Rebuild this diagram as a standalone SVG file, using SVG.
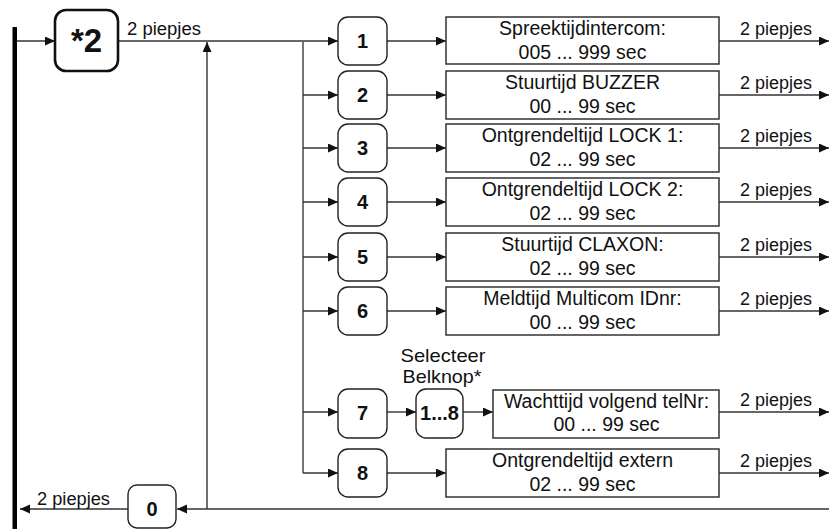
<svg xmlns="http://www.w3.org/2000/svg" width="829" height="529" viewBox="0 0 829 529">
<defs>
<marker id="ah" markerUnits="userSpaceOnUse" markerWidth="11" markerHeight="10" refX="10" refY="4.5" orient="auto">
<path d="M0,0 L10,4.5 L0,9 z" fill="#111"/>
</marker>
<style>
.ln{stroke:#333;stroke-width:1.4;fill:none}
.bus{stroke:#666;stroke-width:1.8;fill:none}
.rb{fill:#fff;stroke:#222;stroke-width:1.4}
.bx{fill:#fff;stroke:#333;stroke-width:1.5}
.num{font-family:"Liberation Sans",Arial,sans-serif;font-weight:bold;font-size:20px;text-anchor:middle;fill:#111}
.txt{font-family:"Liberation Sans",Arial,sans-serif;font-size:19.5px;text-anchor:middle;fill:#111}
.sel{font-family:"Liberation Sans",Arial,sans-serif;font-size:18.5px;text-anchor:middle;fill:#111}
.lbl{font-family:"Liberation Sans",Arial,sans-serif;font-size:18px;fill:#111}
</style>
</defs>
<rect x="12.5" y="27" width="4.5" height="502" fill="#000"/>
<g id="connectors">
<path class="ln" d="M17,41 H55" marker-end="url(#ah)"/>
<path class="ln" d="M118,41 H338" marker-end="url(#ah)"/>
<path class="bus" d="M303,41 V473"/>
<path class="ln" d="M303,95 H338" marker-end="url(#ah)"/>
<path class="ln" d="M303,148 H338" marker-end="url(#ah)"/>
<path class="ln" d="M303,202 H338" marker-end="url(#ah)"/>
<path class="ln" d="M303,257 H338" marker-end="url(#ah)"/>
<path class="ln" d="M303,311 H338" marker-end="url(#ah)"/>
<path class="ln" d="M303,412 H338" marker-end="url(#ah)"/>
<path class="ln" d="M303,473 H338" marker-end="url(#ah)"/>
<path class="ln" d="M387,41 H446" marker-end="url(#ah)"/>
<path class="ln" d="M387,95 H446" marker-end="url(#ah)"/>
<path class="ln" d="M387,148 H446" marker-end="url(#ah)"/>
<path class="ln" d="M387,202 H446" marker-end="url(#ah)"/>
<path class="ln" d="M387,257 H446" marker-end="url(#ah)"/>
<path class="ln" d="M387,311 H446" marker-end="url(#ah)"/>
<path class="ln" d="M387,412 H416" marker-end="url(#ah)"/>
<path class="ln" d="M463,412 H493" marker-end="url(#ah)"/>
<path class="ln" d="M387,473 H446" marker-end="url(#ah)"/>
<path class="ln" d="M719,41 H829" marker-end="url(#ah)"/>
<path class="ln" d="M719,95 H829" marker-end="url(#ah)"/>
<path class="ln" d="M719,148 H829" marker-end="url(#ah)"/>
<path class="ln" d="M719,202 H829" marker-end="url(#ah)"/>
<path class="ln" d="M719,257 H829" marker-end="url(#ah)"/>
<path class="ln" d="M719,311 H829" marker-end="url(#ah)"/>
<path class="ln" d="M719,412 H829" marker-end="url(#ah)"/>
<path class="ln" d="M719,473 H829" marker-end="url(#ah)"/>
<path class="ln" d="M829,509 H177" marker-end="url(#ah)"/>
<path class="ln" d="M207,509 V42" marker-end="url(#ah)"/>
<path class="ln" d="M128,509 H20" marker-end="url(#ah)"/>
<text class="lbl" x="127" y="35" textLength="74" lengthAdjust="spacingAndGlyphs">2 piepjes</text>
<text class="lbl" x="37" y="505" textLength="73" lengthAdjust="spacingAndGlyphs">2 piepjes</text>
<text class="lbl" x="740" y="35" textLength="72" lengthAdjust="spacingAndGlyphs">2 piepjes</text>
<text class="lbl" x="740" y="89" textLength="72" lengthAdjust="spacingAndGlyphs">2 piepjes</text>
<text class="lbl" x="740" y="142" textLength="72" lengthAdjust="spacingAndGlyphs">2 piepjes</text>
<text class="lbl" x="740" y="196" textLength="72" lengthAdjust="spacingAndGlyphs">2 piepjes</text>
<text class="lbl" x="740" y="251" textLength="72" lengthAdjust="spacingAndGlyphs">2 piepjes</text>
<text class="lbl" x="740" y="305" textLength="72" lengthAdjust="spacingAndGlyphs">2 piepjes</text>
<text class="lbl" x="740" y="406" textLength="72" lengthAdjust="spacingAndGlyphs">2 piepjes</text>
<text class="lbl" x="740" y="467" textLength="72" lengthAdjust="spacingAndGlyphs">2 piepjes</text>
</g>
<g id="n-star2">
<rect x="55" y="10" width="63" height="61" rx="11" fill="#fff" stroke="#111" stroke-width="2.6"/>
<text x="86.5" y="52" font-family="'Liberation Sans',Arial,sans-serif" font-weight="bold" font-size="33" text-anchor="middle" fill="#111">*2</text>
</g>
<g id="n-0">
<rect class="rb" x="128" y="485" width="48" height="43" rx="9"/>
<text class="num" x="152" y="516">0</text>
</g>
<g id="n-1"><rect class="rb" x="338" y="17" width="49" height="48" rx="10"/><text class="num" x="362.5" y="48">1</text></g>
<g id="n-2"><rect class="rb" x="338" y="71" width="49" height="48" rx="10"/><text class="num" x="362.5" y="102">2</text></g>
<g id="n-3"><rect class="rb" x="338" y="124" width="49" height="48" rx="10"/><text class="num" x="362.5" y="155">3</text></g>
<g id="n-4"><rect class="rb" x="338" y="178" width="49" height="48" rx="10"/><text class="num" x="362.5" y="209">4</text></g>
<g id="n-5"><rect class="rb" x="338" y="233" width="49" height="48" rx="10"/><text class="num" x="362.5" y="264">5</text></g>
<g id="n-6"><rect class="rb" x="338" y="287" width="49" height="48" rx="10"/><text class="num" x="362.5" y="318">6</text></g>
<g id="n-7"><rect class="rb" x="338" y="389" width="49" height="49" rx="10"/><text class="num" x="362.5" y="420">7</text></g>
<g id="n-8"><rect class="rb" x="338" y="449" width="49" height="48" rx="10"/><text class="num" x="362.5" y="480">8</text></g>
<g id="n-sel">
<text class="sel" x="443" y="362" textLength="85" lengthAdjust="spacingAndGlyphs">Selecteer</text>
<text class="sel" x="442" y="383" textLength="79" lengthAdjust="spacingAndGlyphs">Belknop*</text>
<rect class="rb" x="416" y="389" width="47" height="49" rx="10"/>
<text class="num" x="439.5" y="420">1...8</text>
</g>
<g id="b-1"><rect class="bx" x="446" y="17" width="273" height="47"/><text class="txt" x="582.5" y="35">Spreektijdintercom:</text><text class="txt" x="582.5" y="59">005 ... 999 sec</text></g>
<g id="b-2"><rect class="bx" x="446" y="71" width="273" height="48"/><text class="txt" x="582.5" y="89">Stuurtijd BUZZER</text><text class="txt" x="582.5" y="113">00 ... 99 sec</text></g>
<g id="b-3"><rect class="bx" x="446" y="124" width="273" height="48"/><text class="txt" x="582.5" y="142">Ontgrendeltijd LOCK 1:</text><text class="txt" x="582.5" y="166">02 ... 99 sec</text></g>
<g id="b-4"><rect class="bx" x="446" y="178" width="273" height="48"/><text class="txt" x="582.5" y="196">Ontgrendeltijd LOCK 2:</text><text class="txt" x="582.5" y="220">02 ... 99 sec</text></g>
<g id="b-5"><rect class="bx" x="446" y="233" width="273" height="48"/><text class="txt" x="582.5" y="251">Stuurtijd CLAXON:</text><text class="txt" x="582.5" y="275">02 ... 99 sec</text></g>
<g id="b-6"><rect class="bx" x="446" y="287" width="273" height="48"/><text class="txt" x="582.5" y="305">Meldtijd Multicom IDnr:</text><text class="txt" x="582.5" y="329">00 ... 99 sec</text></g>
<g id="b-7"><rect class="bx" x="493" y="390" width="226" height="48"/><text class="txt" x="606.5" y="408">Wachttijd volgend telNr:</text><text class="txt" x="606.5" y="431">00 ... 99 sec</text></g>
<g id="b-8"><rect class="bx" x="446" y="449" width="273" height="48"/><text class="txt" x="582.5" y="467">Ontgrendeltijd extern</text><text class="txt" x="582.5" y="491">02 ... 99 sec</text></g>
</svg>
